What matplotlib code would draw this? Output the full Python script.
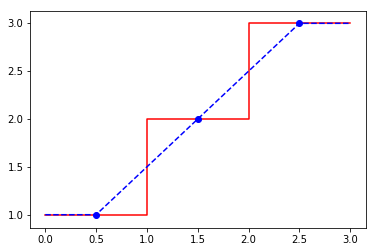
import matplotlib
matplotlib.use("Agg")
import matplotlib.pyplot as plt

# step line (red)
step_x = [0, 1, 2, 3]
step_y = [1, 2, 3, 3]

# dashed line through midpoints (blue)
mid_x = [0, 0.5, 1.5, 2.5, 3]
mid_y = [1, 1, 2, 3, 3]
marker_idx = [1, 2, 3]

plt.rcParams["font.size"] = 10
fig = plt.figure(figsize=(375 / 72, 252 / 72), dpi=72)
ax = fig.add_axes([30.5 / 375, 1 - 228.3 / 252, 335.2 / 375, 217.6 / 252])

ax.step(step_x, step_y, "r", where="post")
ax.plot(mid_x, mid_y, "bo--", markevery=marker_idx)

ax.set_xticks([0, 0.5, 1, 1.5, 2, 2.5, 3])
ax.set_yticks([1, 1.5, 2, 2.5, 3])
ax.set_xlim(-0.145, 3.152)
ax.set_ylim(0.858, 3.132)

fig.savefig("out.png", dpi=72)
